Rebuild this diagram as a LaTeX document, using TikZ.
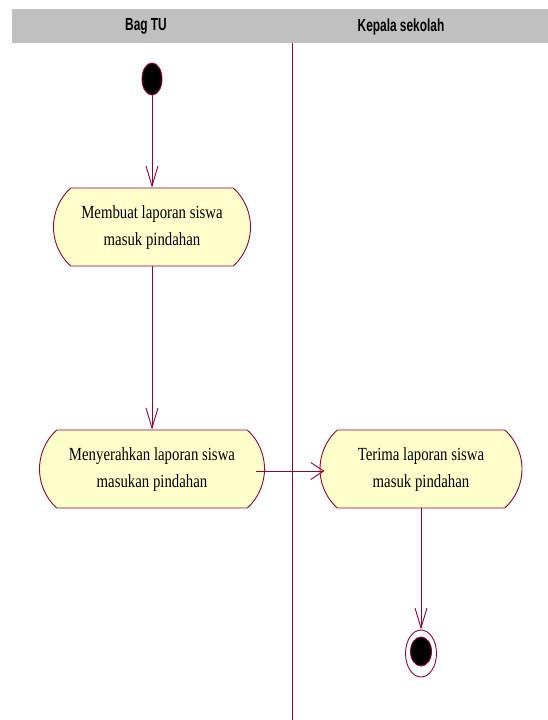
\documentclass[tikz,border=0pt]{standalone}
\usepackage{fontspec}
\setmainfont{Liberation Serif}[FakeStretch=0.8]
\newfontfamily\hdfont{Liberation Sans}[FakeStretch=0.68]
\usetikzlibrary{shapes.misc,shapes.geometric,arrows.meta}
\definecolor{umlred}{RGB}{153,0,51}
\definecolor{actfill}{RGB}{255,255,204}
\definecolor{headgray}{RGB}{192,192,192}
\newcommand{\acttext}[2]{\raisebox{6pt}{\fontsize{18.5}{27}\selectfont\begin{tabular}{@{}c@{}}#1\\#2\end{tabular}}}
\tikzset{
  actbox/.style={rounded rectangle, rounded rectangle arc length=95, draw=umlred, fill=actfill, line width=0.9pt, inner sep=0pt, minimum height=78pt},
  startnode/.style={ellipse, draw=umlred, fill=black, line width=0.9pt, minimum width=20pt, minimum height=32pt, inner sep=0pt},
  endouter/.style={ellipse, draw=umlred, fill=white, line width=0.9pt, minimum width=31pt, minimum height=47pt, inner sep=0pt},
  endinner/.style={ellipse, draw=umlred, fill=black, line width=0.9pt, minimum width=21pt, minimum height=29pt, inner sep=0pt},
  vflow/.style={draw=umlred, line width=0.9pt, -{Straight Barb[length=20pt,width=12pt]}},
  hflow/.style={draw=umlred, line width=0.9pt, -{Straight Barb[length=13pt,width=17pt]}},
  lane/.style={draw=umlred, line width=0.9pt},
  hdtext/.style={font=\hdfont\bfseries\fontsize{17.5}{19}\selectfont, inner sep=0pt}
}
\begin{document}
\begin{tikzpicture}[x=1pt,y=-1pt]
\useasboundingbox (0,0) rectangle (548,720);
% header
\fill[headgray] (12,9) rectangle (548,43);
\node[hdtext] (h1) at (146,26.5) {Bag TU};
\node[hdtext] (h2) at (401,26.5) {Kepala sekolah};
% lane divider
\draw[lane] (292,43) -- (292,720);
% nodes
\node[startnode] (s) at (152,79) {};
\node[actbox, minimum width=197pt] (a1) at (152,227) {\acttext{Membuat laporan siswa}{masuk pindahan}};
\node[actbox, minimum width=225pt] (a2) at (152,469) {\acttext{Menyerahkan laporan siswa}{masukan pindahan}};
\node[actbox, minimum width=202pt] (a3) at (421,469) {\acttext{Terima laporan siswa}{masuk pindahan}};
\node[endouter] (e) at (421,653.5) {};
\node[endinner] (ei) at (421,651.5) {};
% flows
\draw[vflow] (s.south) -- (a1.north);
\draw[vflow] (a1.south) -- (a2.north);
\draw[hflow] ([xshift=-9pt,yshift=-2pt]a2.east) -- ([xshift=5pt,yshift=-2pt]a3.west);
\draw[vflow] (a3.south) -- (e.north);
\end{tikzpicture}
\end{document}
